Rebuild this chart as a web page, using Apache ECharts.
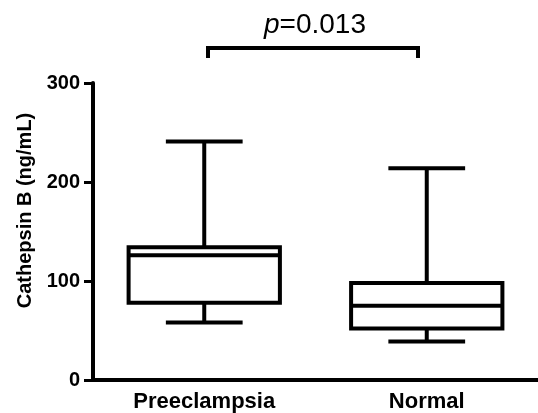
<!DOCTYPE html>
<html>
<head>
<meta charset="utf-8">
<script src="https://cdn.jsdelivr.net/npm/echarts@6/dist/echarts.min.js"></script>
<style>
  html, body { margin: 0; padding: 0; background: #fff; }
  #main { width: 538px; height: 413px; }
</style>
</head>
<body>
<div id="main"></div>
<script>
// 数据
var categories = ['Preeclampsia', 'Normal'];
// [min, Q1, median, Q3, max]
var preeclampsia = [58, 78, 126, 134, 241];
var normal = [39, 52, 75, 98, 214];
var yTicks = [0, 100, 200, 300];
var pText = '0.013';

var chart = echarts.init(document.getElementById('main'));
var font = 'Arial, "Liberation Sans", Helvetica, sans-serif';

// 箱线图：自定义绘制（须端线比箱子窄）
function renderBox(params, api) {
  var idx = api.value(0);
  var band = api.size([1, 0])[0];
  var bw = band * 0.68, cw = band * 0.345;
  var pMin = api.coord([idx, api.value(1)]);
  var pQ1 = api.coord([idx, api.value(2)]);
  var pMed = api.coord([idx, api.value(3)]);
  var pQ3 = api.coord([idx, api.value(4)]);
  var pMax = api.coord([idx, api.value(5)]);
  var x = pMed[0];
  var st = { stroke: '#000', lineWidth: 4, fill: null };
  return {
    type: 'group',
    children: [
      { type: 'rect', shape: { x: x - bw / 2, y: pQ3[1], width: bw, height: pQ1[1] - pQ3[1] }, style: { stroke: '#000', lineWidth: 4, fill: '#fff' } },
      { type: 'line', shape: { x1: x - bw / 2, y1: pMed[1], x2: x + bw / 2, y2: pMed[1] }, style: st },
      { type: 'line', shape: { x1: x, y1: pQ3[1], x2: x, y2: pMax[1] }, style: st },
      { type: 'line', shape: { x1: x, y1: pQ1[1], x2: x, y2: pMin[1] }, style: st },
      { type: 'line', shape: { x1: x - cw / 2, y1: pMax[1], x2: x + cw / 2, y2: pMax[1] }, style: st },
      { type: 'line', shape: { x1: x - cw / 2, y1: pMin[1], x2: x + cw / 2, y2: pMin[1] }, style: st }
    ]
  };
}

var option = {
  backgroundColor: '#fff',
  animation: false,
  grid: { left: 93, right: 0, top: 83, bottom: 33, containLabel: false },
  xAxis: {
    type: 'category',
    data: categories,
    boundaryGap: true,
    axisLine: { lineStyle: { color: '#000', width: 4 } },
    axisTick: { alignWithLabel: true, length: 8, lineStyle: { color: '#000', width: 3 } },
    axisLabel: { color: '#000', fontFamily: font, fontWeight: 'bold', fontSize: 22, margin: 11 },
    splitLine: { show: false }
  },
  yAxis: {
    type: 'value',
    min: yTicks[0],
    max: yTicks[yTicks.length - 1],
    interval: 100,
    name: 'Cathepsin B (ng/mL)',
    nameLocation: 'middle',
    nameGap: 58,
    nameTextStyle: { color: '#000', fontFamily: font, fontWeight: 'bold', fontSize: 20, padding: [0, 0, 0, 42] },
    axisLine: { show: true, lineStyle: { color: '#000', width: 4 } },
    axisTick: { show: true, length: 9, lineStyle: { color: '#000', width: 3 } },
    axisLabel: { color: '#000', fontFamily: font, fontWeight: 'bold', fontSize: 20, margin: 13 },
    splitLine: { show: false }
  },
  series: [{
    type: 'custom',
    renderItem: renderBox,
    encode: { x: 0, y: [1, 2, 3, 4, 5] },
    data: [
      [0].concat(preeclampsia),
      [1].concat(normal)
    ]
  }],
  // 显著性标注
  graphic: [
    {
      type: 'polyline',
      shape: { points: [[208, 58], [208, 48], [418, 48], [418, 58]] },
      style: { stroke: '#000', lineWidth: 4, fill: null }
    },
    {
      type: 'text',
      x: 315, y: 25,
      style: {
        text: '{i|p}=' + pText,
        align: 'center', verticalAlign: 'middle',
        font: '28px ' + font,
        fill: '#000',
        rich: { i: { fontStyle: 'italic', fontSize: 28, fontFamily: font, fill: '#000' } }
      }
    }
  ]
};

chart.setOption(option);
</script>
</body>
</html>
